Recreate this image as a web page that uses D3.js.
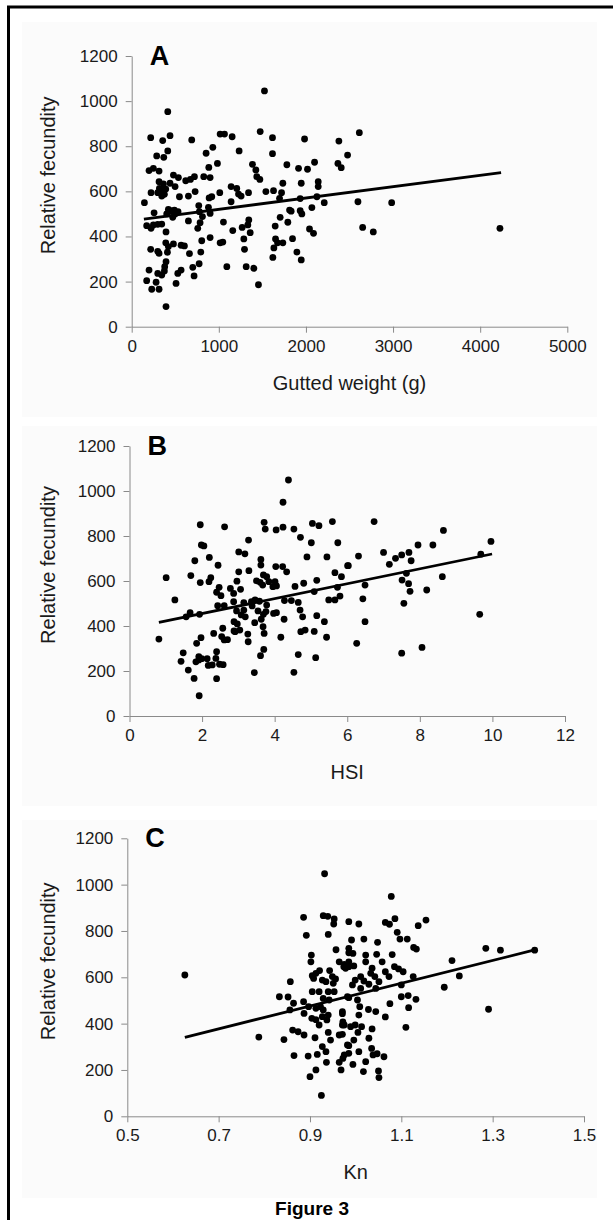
<!DOCTYPE html>
<html>
<head>
<meta charset="utf-8">
<script src="https://cdn.jsdelivr.net/npm/d3@7"></script>
<style>
  body { margin: 0; background: #fff; }
  svg { display: block; }
  text { font-family: Arial, "Liberation Sans", sans-serif; }
</style>
</head>
<body>
<svg id="fig" width="613" height="1220"></svg>
<script>

// Panel A: gutted weight (g) vs relative fecundity
var pointsA = [
    [1524,1045],[414,953],[218,838],[440,847],[689,828],[1015,854],[1065,854],[1153,842],[1475,865],
    [1616,838],[1984,832],[2378,823],[356,825],[414,779],[931,795],[854,769],[1233,779],[1616,767],
    [287,757],[368,751],[2478,761],[885,706],[984,724],[1386,720],[1425,695],[1781,718],[2099,729],
    [2367,724],[2405,705],[199,692],[249,702],[314,690],[1915,702],[2018,698],[1436,665],[1471,653],
    [479,672],[536,661],[620,647],[674,653],[720,665],[827,665],[900,661],[314,643],[364,633],
    [440,636],[498,621],[1141,621],[1206,613],[1946,636],[2141,643],[1735,636],[2141,621],[318,613],
    [352,606],[391,610],[299,594],[222,594],[345,579],[375,587],[548,576],[651,579],[728,599],
    [889,571],[919,576],[1011,594],[1226,588],[1256,579],[1341,594],[1540,599],[1628,603],[1720,594],
    [2126,576],[2210,550],[146,550],[770,537],[1141,554],[1697,569],[1934,568],[2068,528],[421,520],
    [448,514],[490,517],[532,510],[257,505],[402,500],[471,485],[498,500],[777,510],[881,529],
    [900,502],[812,488],[1812,517],[1830,512],[1934,514],[1953,500],[172,448],[222,436],[249,451],
    [299,454],[345,455],[785,461],[651,469],[1053,464],[1344,473],[1333,451],[758,436],[1268,440],
    [1360,417],[1160,426],[1647,446],[1704,485],[1792,463],[2041,433],[2087,414],[394,420],[804,381],
    [900,395],[1015,372],[1046,375],[218,343],[391,372],[421,355],[479,367],[567,361],[605,358],
    [1287,389],[1651,389],[1674,372],[1735,372],[1846,390],[1632,349],[299,334],[314,325],[1295,343],
    [1896,331],[663,324],[793,331],[410,330],[394,288],[379,266],[199,251],[299,236],[345,229],
    [375,247],[701,263],[774,279],[567,251],[529,236],[1092,266],[1314,266],[1402,259],[1620,307],
    [1946,296],[172,204],[280,197],[314,166],[230,166],[509,192],[716,225],[1455,186],[394,89],
    [2613,860],[2597,554],[2984,550],[2651,440],[2773,420],[4227,436]
];
var fitA = [[140, 477], [4240, 683]];
var ticksA = [0, 1000, 2000, 3000, 4000, 5000];

// Panel B: HSI vs relative fecundity
var pointsB = [
    [4.38,1049],[4.23,950],[1.95,850],[2.62,841],[3.71,861],[3.74,831],[4.04,827],[4.23,839],[4.53,831],
    [5.04,856],[5.22,846],[5.59,864],[4.71,794],[5.01,770],[5.74,770],[3.28,782],[1.98,760],[2.05,756],
    [3.01,729],[3.18,721],[1.80,690],[2.20,705],[2.44,670],[3.62,696],[3.62,671],[4.89,707],[5.44,707],
    [4.03,664],[4.22,664],[4.33,641],[6.01,668],[3.01,641],[3.29,646],[1.01,615],[1.69,624],[1.95,593],
    [2.19,597],[2.24,615],[5.66,637],[5.84,619],[3.69,627],[3.78,619],[3.50,601],[3.60,594],[3.84,597],
    [4.01,597],[4.05,578],[3.95,575],[2.96,599],[2.47,572],[2.40,550],[2.52,535],[2.78,567],[3.06,563],
    [2.87,545],[3.67,582],[4.56,576],[4.80,590],[5.16,603],[5.09,553],[5.73,572],[5.80,533],[5.66,516],
    [5.49,516],[1.25,516],[2.87,508],[3.15,504],[2.61,490],[2.43,490],[3.36,508],[3.46,516],[3.58,510],
    [3.38,489],[3.78,493],[4.27,513],[4.46,513],[4.65,505],[1.67,459],[1.56,441],[1.93,452],[2.95,467],
    [3.15,471],[3.08,449],[3.19,441],[2.88,419],[2.97,409],[3.54,467],[3.69,452],[3.76,464],[3.97,456],
    [3.63,430],[4.05,459],[4.70,471],[4.77,441],[5.16,446],[5.37,419],[3.45,415],[4.26,430],[2.88,378],
    [3.04,382],[3.26,364],[3.27,330],[3.68,397],[3.71,367],[2.57,390],[2.61,338],[2.70,339],[2.32,367],
    [2.54,353],[1.97,348],[1.85,323],[2.91,375],[4.17,350],[4.72,375],[4.84,382],[5.09,376],[5.43,350],
    [0.81,342],[1.48,281],[1.42,243],[1.91,264],[1.99,255],[1.91,249],[1.83,241],[2.14,255],[2.40,286],
    [2.38,256],[2.48,230],[2.28,227],[2.58,228],[2.17,225],[1.62,204],[1.78,167],[2.40,166],[3.70,296],
    [3.61,268],[4.65,273],[5.13,259],[3.44,193],[4.53,194],[1.92,90],
    [6.74,864],[8.65,825],[9.96,776],[7.95,760],[8.36,760],[7.00,727],[7.50,716],[7.70,727],[7.33,701],
    [7.76,690],[6.31,711],[6.03,668],[7.16,674],[9.68,719],[7.63,634],[8.62,619],[7.51,604],[6.49,582],
    [7.69,588],[7.73,554],[8.19,560],[6.43,521],[7.56,501],[9.65,452],[6.49,419],[6.26,323],[7.50,279],
    [8.06,305]
];
var fitB = [[0.81, 416], [9.99, 720]];
var ticksB = [0, 2, 4, 6, 8, 10, 12];

// Panel C: Kn vs relative fecundity
var pointsC = [
    [0.626,610],[0.788,342],[0.843,331],[0.932,1047],[0.886,859],[0.929,866],[0.939,863],[0.953,852],
    [0.952,830],[0.985,840],[0.892,781],[0.940,785],[0.957,719],[0.985,725],[0.903,696],[0.902,667],
    [0.921,629],[0.913,617],[0.943,629],[0.964,667],[0.974,646],[0.985,667],[0.905,607],[0.908,595],
    [0.927,588],[0.935,581],[0.949,603],[0.951,574],[0.956,593],[0.857,581],[0.905,538],[0.920,538],
    [0.940,538],[0.953,538],[0.929,509],[0.833,516],[0.852,515],[0.864,488],[0.886,495],[0.897,473],
    [0.913,466],[0.923,473],[0.942,502],[0.929,459],[0.856,459],[0.887,444],[0.904,423],[0.913,417],
    [0.927,430],[0.937,416],[0.920,394],[0.940,437],[0.985,512],[0.971,443],[0.972,408],[0.971,394],
    [0.862,372],[0.874,365],[0.887,351],[0.911,339],[0.940,362],[0.945,329],[0.964,351],[0.982,308],
    [0.927,301],[0.935,279],[0.865,262],[0.896,260],[0.916,267],[0.936,233],[0.964,233],[0.972,250],
    [0.913,200],[0.900,171],[0.985,272],[0.925,90],
    [1.078,949],[1.007,830],[1.065,837],[1.074,829],[1.086,853],[1.137,823],[1.154,847],[1.091,794],
    [1.097,765],[1.113,765],[0.991,761],[1.018,765],[1.048,751],[1.127,729],[1.133,722],[1.285,725],
    [1.317,717],[1.392,717],[0.985,706],[0.994,703],[1.022,696],[1.046,699],[1.080,698],[0.975,656],
    [0.985,646],[1.022,667],[1.058,667],[1.085,646],[1.094,636],[1.104,624],[0.978,639],[0.996,649],
    [1.036,639],[1.033,617],[1.065,624],[1.073,603],[1.011,603],[1.018,584],[0.999,588],[1.042,603],
    [1.051,581],[0.993,567],[1.011,552],[1.029,570],[1.044,552],[1.126,603],[1.100,567],[1.211,672],
    [1.227,606],[1.194,557],[1.291,462],[0.982,516],[1.004,502],[0.971,452],[1.009,473],[1.028,461],
    [1.044,452],[1.065,429],[1.075,486],[1.100,516],[1.115,521],[1.132,505],[1.116,469],[1.110,384],
    [0.975,394],[0.989,387],[0.971,354],[1.007,437],[0.999,394],[1.013,387],[1.005,362],[1.036,377],
    [1.029,337],[0.996,329],[0.985,305],[1.035,293],[1.038,265],[1.047,270],[1.062,257],[1.007,279],
    [0.975,265],[0.994,224],[1.022,236],[1.017,193],[1.050,196],[1.051,167],[0.968,200]
];
var fitC = [[0.626, 341], [1.392, 718]];
var ticksC = [0.5, 0.7, 0.9, 1.1, 1.3, 1.5];

var fecundTicks = [0, 200, 400, 600, 800, 1000, 1200];


var svg = d3.select('#fig');

// outer frame of the figure (runs off the right and bottom of the page)
svg.append('path')
    .attr('d', 'M8.5,1230 V7 H620')
    .attr('fill', 'none')
    .attr('stroke', '#000')
    .attr('stroke-width', 3);


function panel (p) {

    var g = svg.append('g');

    // faint panel background
    g.append('rect')
        .attr('x', 22).attr('y', p.bg[0])
        .attr('width', 575).attr('height', p.bg[1] - p.bg[0])
        .attr('fill', '#fbfbfb');

    var x = d3.scaleLinear().domain(p.xDomain).range([p.left, p.right]),
        y = d3.scaleLinear().domain([0, 1200]).range([p.bottom, p.top]);

    var xAxis = g.append('g')
        .attr('transform', 'translate(0,' + p.bottom + ')')
        .call(d3.axisBottom(x)
            .tickValues(p.xTicks)
            .tickFormat(p.xFormat)
            .tickSize(6)
            .tickSizeOuter(0)
            .tickPadding(7));

    var yAxis = g.append('g')
        .attr('transform', 'translate(' + p.left + ',0)')
        .call(d3.axisLeft(y)
            .tickValues(fecundTicks)
            .tickFormat(d3.format('d'))
            .tickSize(6)
            .tickSizeOuter(0)
            .tickPadding(8));

    [xAxis, yAxis].forEach(function (a) {
        a.selectAll('path, line').attr('stroke', '#8a8a8a');
        a.selectAll('text')
            .attr('font-size', 17)
            .attr('fill', '#1a1a1a')
            .attr('font-family', 'Arial, "Liberation Sans", sans-serif');
    });

    // regression line
    g.append('line')
        .attr('x1', x(p.fit[0][0])).attr('y1', y(p.fit[0][1]))
        .attr('x2', x(p.fit[1][0])).attr('y2', y(p.fit[1][1]))
        .attr('stroke', '#000')
        .attr('stroke-width', 2.8);

    g.append('g')
        .selectAll('circle')
        .data(p.points)
        .enter()
        .append('circle')
        .attr('cx', function (d) { return x(d[0]); })
        .attr('cy', function (d) { return y(d[1]); })
        .attr('r', 3.4)
        .attr('fill', '#000');

    g.append('text')
        .attr('x', p.left + 18)
        .attr('y', p.top + 9)
        .attr('font-family', '"Liberation Serif", "Times New Roman", serif')
        .attr('font-weight', 'bold')
        .attr('font-size', 27)
        .text(p.letter);

    g.append('text')
        .attr('transform', 'translate(55,' + ((p.top + p.bottom) / 2 - 16) + ') rotate(-90)')
        .attr('text-anchor', 'middle')
        .attr('font-size', 20)
        .attr('fill', '#1a1a1a')
        .text('Relative fecundity');

    g.append('text')
        .attr('x', (p.left + p.right) / 2)
        .attr('y', p.bottom + 63)
        .attr('text-anchor', 'middle')
        .attr('font-size', 20)
        .attr('fill', '#1a1a1a')
        .text(p.xTitle);

    return g;
}


panel({
    letter: 'A', points: pointsA, fit: fitA,
    xDomain: [0, 5000], xTicks: ticksA, xFormat: d3.format('d'), xTitle: 'Gutted weight (g)',
    left: 131.7, right: 567.3, top: 56, bottom: 326.7, bg: [22, 417]
});

panel({
    letter: 'B', points: pointsB, fit: fitB,
    xDomain: [0, 12], xTicks: ticksB, xFormat: d3.format('d'), xTitle: 'HSI',
    left: 129.5, right: 565, top: 446, bottom: 716, bg: [426, 806]
});

panel({
    letter: 'C', points: pointsC, fit: fitC,
    xDomain: [0.5, 1.5], xTicks: ticksC, xFormat: d3.format('.1f'), xTitle: 'Kn',
    left: 127.3, right: 584, top: 838.3, bottom: 1116.3, bg: [820, 1198]
});

svg.append('text')
    .attr('x', 312)
    .attr('y', 1215)
    .attr('text-anchor', 'middle')
    .attr('font-size', 19)
    .attr('font-weight', 'bold')
    .text('Figure 3');

</script>
</body>
</html>
